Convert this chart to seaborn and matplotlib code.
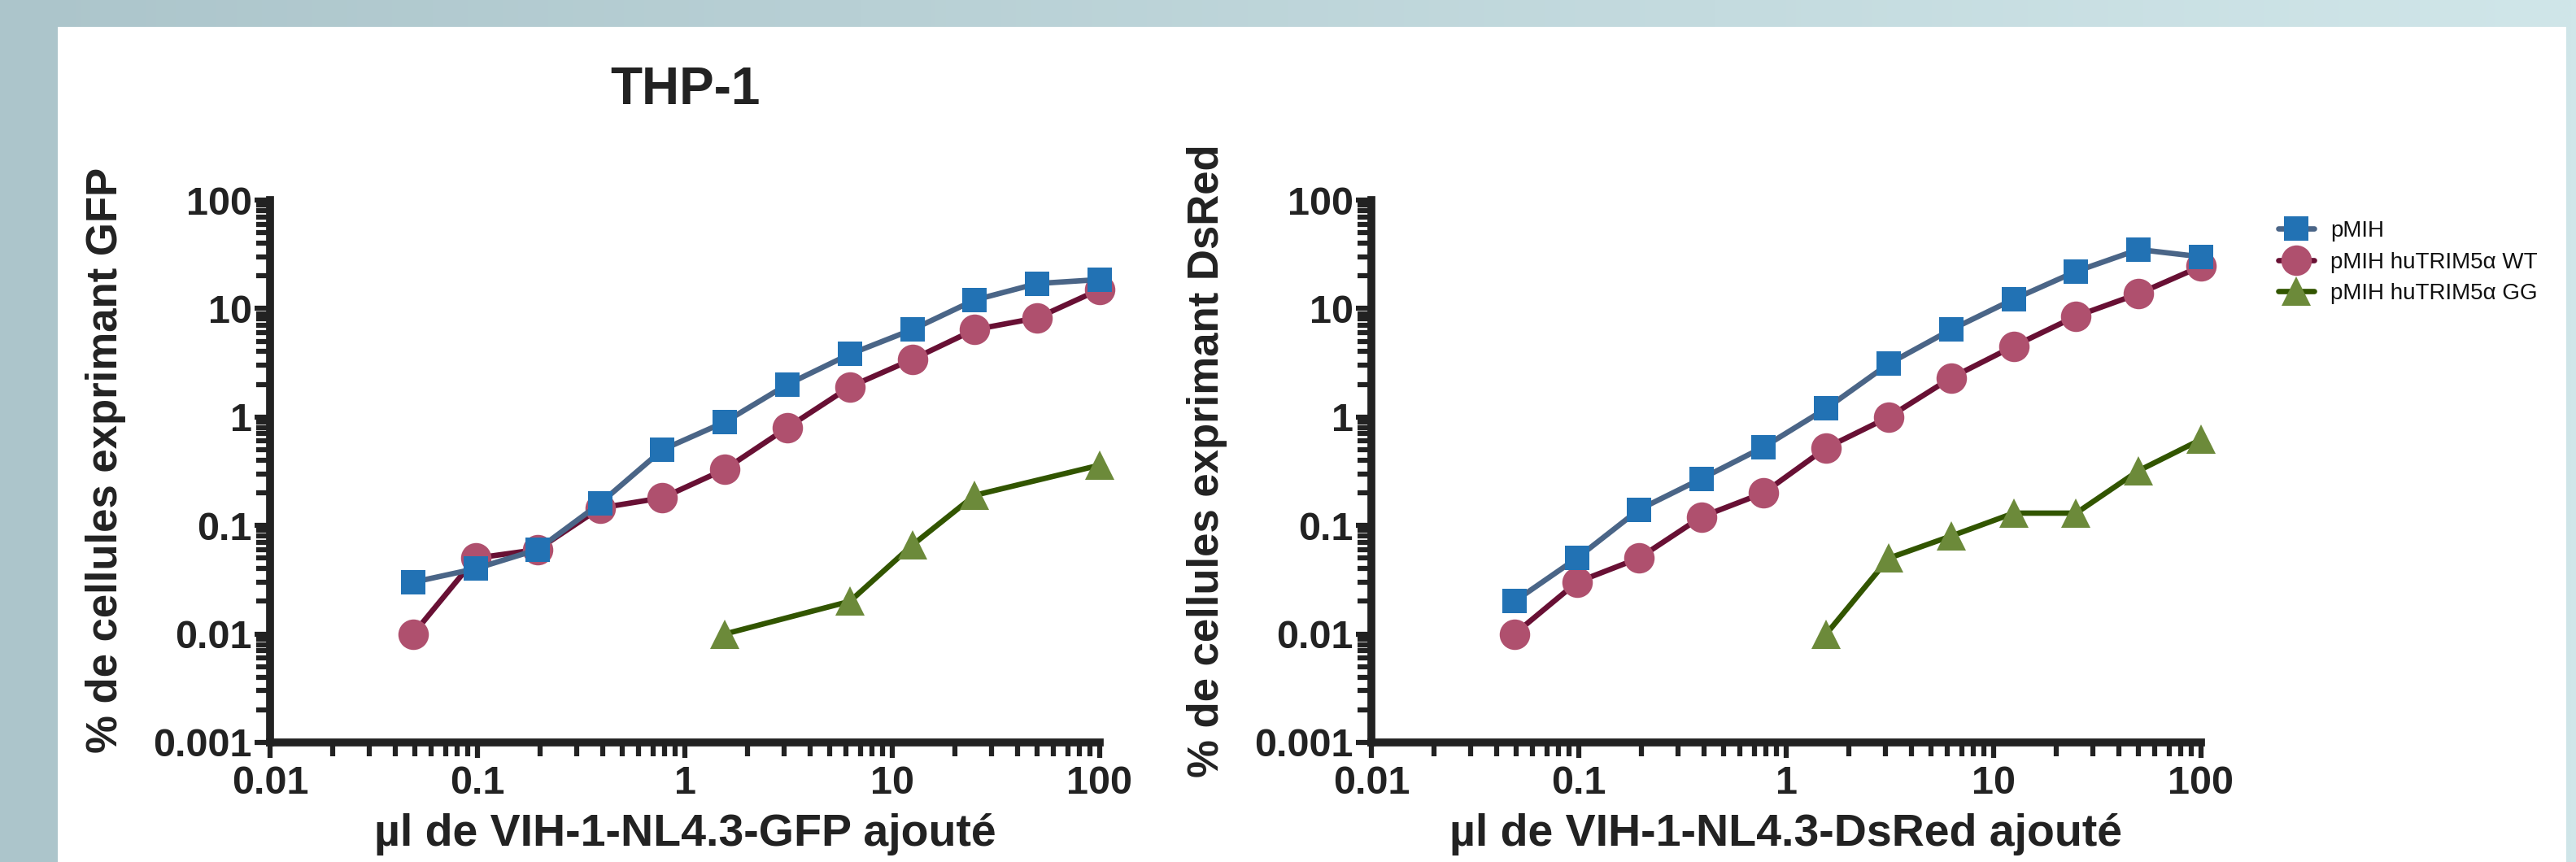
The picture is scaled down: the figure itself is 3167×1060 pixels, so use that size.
import numpy as np
import pandas as pd
import matplotlib
matplotlib.use("Agg")
import matplotlib.pyplot as plt
import seaborn as sns
from matplotlib.lines import Line2D
from matplotlib.patches import Rectangle
from matplotlib.ticker import LogLocator, NullFormatter

# ---------------- data ----------------
title = "THP-1"
series_names = ["pMIH", "pMIH huTRIM5α WT", "pMIH huTRIM5α GG"]

x_dil = [0.049, 0.098, 0.195, 0.39, 0.78, 1.56, 3.125, 6.25, 12.5, 25, 50, 100]

gfp_pmih = [0.03, 0.04, 0.06, 0.16, 0.5, 0.9, 2.0, 3.8, 6.4, 12.0, 17.0, 18.5]
gfp_wt = [0.01, 0.05, 0.06, 0.145, 0.18, 0.33, 0.8, 1.9, 3.4, 6.4, 8.2, 15.0]
gfp_gg_x = [1.56, 6.25, 12.5, 25, 100]
gfp_gg = [0.01, 0.02, 0.066, 0.19, 0.36]

dsred_pmih = [0.02, 0.05, 0.14, 0.27, 0.53, 1.2, 3.1, 6.4, 12.2, 22.0, 35.0, 30.0]
dsred_wt = [0.01, 0.03, 0.05, 0.12, 0.2, 0.52, 1.0, 2.3, 4.5, 8.5, 13.7, 24.5]
dsred_gg_x = [1.56, 3.125, 6.25, 12.5, 25, 50, 100]
dsred_gg = [0.01, 0.05, 0.08, 0.13, 0.13, 0.32, 0.62]

x_ticks = [0.01, 0.1, 1, 10, 100]
x_tick_labels = ["0.01", "0.1", "1", "10", "100"]
y_ticks = [0.001, 0.01, 0.1, 1, 10, 100]
y_tick_labels = ["0.001", "0.01", "0.1", "1", "10", "100"]

y_labels = ["% de cellules exprimant GFP", "% de cellules exprimant DsRed"]
x_labels = ["µl de VIH-1-NL4.3-GFP ajouté", "µl de VIH-1-NL4.3-DsRed ajouté"]

# ---------------- styles ----------------
line_colors = ["#4A6587", "#681034", "#325500"]
fill_colors = ["#2272B4", "#AF506E", "#6C8A3A"]
markers = ["s", "o", "^"]
msizes = [21, 27, 26]
LW = 4.8
INK = "#222222"

sns.set_style("ticks")
plt.rcParams["font.family"] = ["Liberation Sans", "DejaVu Sans"]

W, H = 3167, 1060
fig = plt.figure(figsize=(W / 100, H / 100), dpi=100)

# background gradient + white panel
bg = fig.add_axes([0, 0, 1, 1], zorder=-10)
t = np.linspace(0, 1, 512)
c0 = np.array([172, 197, 203]) / 255
c1 = np.array([208, 230, 233]) / 255
grad = (c0[None, :] * (1 - t[:, None]) + c1[None, :] * t[:, None])[None, :, :]
bg.imshow(grad, extent=[0, 1, 0, 1], aspect="auto", transform=bg.transAxes)
bg.add_patch(Rectangle((71 / W, 0), (3155 - 71) / W, (1060 - 33) / H,
                       transform=bg.transAxes, facecolor="white", edgecolor="none"))
bg.set_xlim(0, 1)
bg.set_ylim(0, 1)
bg.set_axis_off()

ax_left_px = [332, 1686]
ax_w_px = 1020
ax_top_px, ax_bot_px = 246, 913

panels = [
    [(x_dil, gfp_pmih), (x_dil, gfp_wt), (gfp_gg_x, gfp_gg)],
    [(x_dil, dsred_pmih), (x_dil, dsred_wt), (dsred_gg_x, dsred_gg)],
]

axes = []
for p in range(2):
    ax = fig.add_axes([ax_left_px[p] / W, (H - ax_bot_px) / H,
                       ax_w_px / W, (ax_bot_px - ax_top_px) / H])
    ax.set_facecolor("none")
    axes.append(ax)
    draw_order = [1, 0, 2]
    for k in draw_order:
        xs, ys = panels[p][k]
        df = pd.DataFrame({"x": xs, "y": ys})
        sns.lineplot(data=df, x="x", y="y", ax=ax, color=line_colors[k],
                     linewidth=LW, marker=markers[k], markersize=msizes[k],
                     markerfacecolor=fill_colors[k], markeredgewidth=0,
                     estimator=None, sort=False, legend=False,
                     zorder=3 + (1 if k == 0 else 0), clip_on=False)
    ax.set_xscale("log")
    ax.set_yscale("log")
    ax.set_xlim(0.01, 100)
    ax.set_ylim(0.001, 100)
    ax.set_xticks(x_ticks, labels=x_tick_labels)
    ax.set_yticks(y_ticks, labels=y_tick_labels)
    ax.xaxis.set_minor_locator(LogLocator(base=10, subs=np.arange(2, 10)))
    ax.yaxis.set_minor_locator(LogLocator(base=10, subs=np.arange(2, 10)))
    ax.xaxis.set_minor_formatter(NullFormatter())
    ax.yaxis.set_minor_formatter(NullFormatter())
    ax.tick_params(which="major", direction="out", length=14, width=4.5,
                   color=INK, labelcolor=INK, labelsize=35)
    ax.tick_params(which="minor", direction="out", length=12, width=4.5, color=INK)
    ax.tick_params(axis="x", which="major", pad=6)
    ax.tick_params(axis="y", which="major", pad=2)
    for lbl in ax.get_xticklabels() + ax.get_yticklabels():
        lbl.set_fontweight("bold")
    sns.despine(ax=ax)
    for s in ["left", "bottom"]:
        ax.spines[s].set_linewidth(7)
        ax.spines[s].set_color(INK)
        ax.spines[s].set_capstyle("projecting")
    ax.set_xlabel(x_labels[p], fontsize=40, fontweight="bold", color=INK)
    ax.set_ylabel(y_labels[p], fontsize=38, fontweight="bold", color=INK)
    ax.xaxis.set_label_coords(0.5, (ax_bot_px - 1000) / (ax_bot_px - ax_top_px))
    ax.yaxis.set_label_coords(-177 / ax_w_px, 0.52)

axes[0].set_title(title, fontsize=46, fontweight="bold", color=INK,
                  y=(ax_bot_px - 128) / (ax_bot_px - ax_top_px), pad=0, va="baseline")

handles = [Line2D([0], [0], color=line_colors[k], lw=LW, marker=markers[k],
                  markersize=msizes[k], markerfacecolor=fill_colors[k],
                  markeredgewidth=0) for k in range(3)]
leg = fig.legend(handles, series_names, loc="upper left",
                 bbox_to_anchor=(2776 / W, 1 - 246 / H), frameon=False,
                 fontsize=20, handlelength=1.6, handletextpad=0.7,
                 labelspacing=0.45, borderpad=0.4)
for txt in leg.get_texts():
    txt.set_color("#111111")

fig.savefig("out.png", dpi=100)
